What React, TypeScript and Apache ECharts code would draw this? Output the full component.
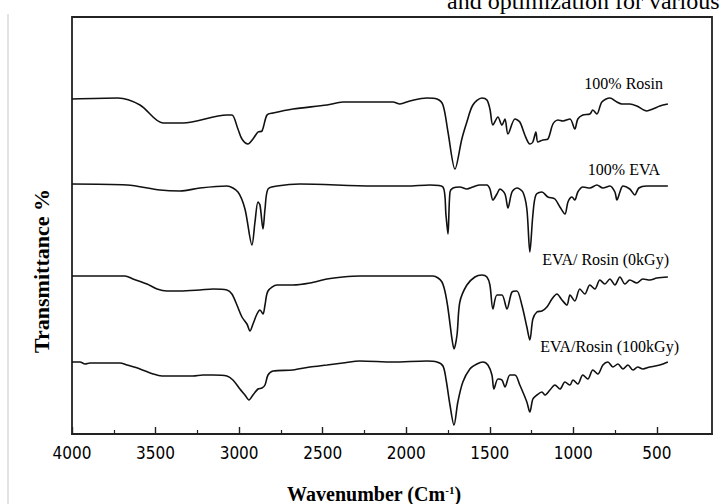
import React, { useEffect, useRef } from 'react';
import * as echarts from 'echarts';

// Wavenumbers (cm-1) and deviation from each spectrum's baseline (arbitrary transmittance units)
const rosinWn = [4000, 3725, 3593, 3456, 3336, 3073, 3043, 3007, 2983, 2947, 2917, 2887, 2863, 2833, 2797, 2678, 2474, 2379, 2079, 2038, 1978, 1876, 1816, 1780, 1750, 1708, 1667, 1637, 1601, 1547, 1517, 1499, 1481, 1451, 1427, 1409, 1391, 1349, 1320, 1290, 1260, 1242, 1224, 1212, 1182, 1152, 1122, 1092, 1062, 1020, 991, 973, 943, 901, 883, 859, 829, 781, 739, 709, 662, 620, 560, 524, 482, 434];
const rosinT = [0, 1, -6, -24, -24, -16, -16, -30, -40, -45, -40, -33, -32, -16, -14, -10, -6, -3, -3, -5, -2, 1, 0, -6, -33, -70, -40, -23, -6, 1, -1, -10, -26, -18, -26, -20, -35, -20, -23, -36, -45, -43, -33, -43, -41, -40, -25, -21, -22, -20, -30, -20, -16, -15, -11, -15, -3, 1, -3, -5, -5, -7, -12, -10, -7, -5];

const evaWn = [4000, 3671, 3473, 3354, 3234, 3073, 3007, 2965, 2923, 2905, 2887, 2875, 2857, 2845, 2827, 2773, 2636, 2199, 1996, 1858, 1780, 1762, 1750, 1738, 1720, 1679, 1637, 1601, 1559, 1517, 1499, 1481, 1457, 1439, 1409, 1391, 1367, 1338, 1302, 1278, 1260, 1242, 1224, 1188, 1152, 1110, 1080, 1050, 1032, 1008, 991, 973, 943, 901, 859, 823, 781, 751, 739, 721, 703, 662, 632, 608, 560, 434];
const evaT = [0, -1, -6, -7, -4, -2, -8, -25, -61, -38, -18, -21, -45, -25, -5, -2, 0, -2, -2, -1, -3, -31, -50, -8, -4, -3, -5, -3, -1, -1, -5, -16, -10, -5, -10, -24, -8, -4, -8, -25, -68, -31, -11, -8, -13, -15, -23, -30, -18, -13, -16, -8, -3, -4, -1, -4, -2, -8, -16, -8, -2, -5, -11, -4, -2, -2];

const blend0Wn = [4000, 3683, 3635, 3551, 3491, 3432, 3354, 3234, 3156, 3073, 3043, 3013, 2983, 2953, 2935, 2917, 2893, 2875, 2857, 2845, 2827, 2773, 2678, 2576, 2474, 2379, 2277, 2079, 1840, 1786, 1756, 1726, 1714, 1696, 1679, 1637, 1589, 1547, 1517, 1499, 1481, 1457, 1427, 1397, 1367, 1338, 1308, 1278, 1260, 1242, 1218, 1188, 1158, 1128, 1098, 1068, 1038, 1020, 991, 961, 931, 901, 871, 841, 811, 781, 751, 721, 691, 662, 620, 584, 542, 500, 434];
const blend0T = [0, 0, -3, -8, -13, -15, -15, -14, -13, -14, -18, -29, -41, -48, -55, -48, -38, -34, -38, -29, -15, -9, -9, -7, -3, -1, 0, 0, 0, -6, -26, -63, -73, -59, -26, -9, -1, 1, -1, -9, -33, -19, -19, -33, -16, -15, -29, -51, -64, -43, -36, -35, -31, -23, -18, -24, -29, -19, -25, -13, -18, -9, -13, -4, -8, -3, -9, -1, -8, -4, -7, -3, -4, -2, -1];

const blend100Wn = [4000, 3952, 3922, 3892, 3713, 3671, 3593, 3515, 3462, 3276, 3216, 3156, 3073, 3037, 2995, 2965, 2941, 2917, 2887, 2863, 2845, 2827, 2797, 2678, 2576, 2474, 2379, 2277, 2079, 1876, 1816, 1780, 1762, 1738, 1714, 1691, 1661, 1619, 1577, 1541, 1511, 1487, 1475, 1451, 1427, 1409, 1379, 1349, 1320, 1278, 1260, 1242, 1218, 1188, 1170, 1140, 1110, 1080, 1050, 1020, 1002, 973, 943, 913, 883, 853, 823, 793, 763, 733, 703, 673, 643, 614, 584, 542, 482, 434];
const blend100T = [0, 0, -2, -1, -1, -3, -7, -12, -14, -14, -13, -13, -14, -18, -27, -33, -38, -33, -27, -26, -23, -13, -9, -8, -5, -3, -1, 1, 0, 1, 0, -4, -17, -43, -63, -40, -20, -7, -2, 0, -3, -13, -27, -17, -18, -25, -13, -13, -23, -40, -50, -37, -33, -30, -33, -28, -23, -27, -20, -23, -18, -22, -13, -17, -8, -12, -3, 0, -5, -2, -7, -3, -8, -5, -7, -5, -3, 0];

const seriesNames = ['100% Rosin', '100% EVA', 'EVA/ Rosin (0kGy)', 'EVA/Rosin (100kGy)'];
const seriesWn = [rosinWn, evaWn, blend0Wn, blend100Wn];
const seriesT = [rosinT, evaT, blend0T, blend100T];
const seriesOffset = [335, 250, 158, 72];

const majorTicks = [4000, 3500, 3000, 2500, 2000, 1500, 1000, 500];
const minorTicks = [3750, 3250, 2750, 2250, 1750, 1250, 750];

const SERIF = '"Liberation Serif", "Times New Roman", serif';
const NARROW = '"Liberation Sans Narrow", "Arial Narrow", "DejaVu Sans Condensed", sans-serif';

export default function App() {
  const ref = useRef<HTMLDivElement>(null);
  useEffect(() => {
    const chart = echarts.init(ref.current!, null, { renderer: 'svg' });
    const series = seriesNames.map((name, i) => ({
      name,
      type: 'line',
      xAxisIndex: 0,
      showSymbol: false,
      symbol: 'none',
      smooth: 0.3,
      lineStyle: { color: '#111', width: 1.6 },
      data: seriesWn[i].map((w, j) => [w, seriesOffset[i] + seriesT[i][j]]),
    }));
    chart.setOption({
      animation: false,
      backgroundColor: '#fff',
      grid: {
        left: 72, right: 12, top: 17, bottom: 70,
        show: true, borderColor: '#222', borderWidth: 1.8,
      },
      xAxis: [
        {
          type: 'value', inverse: true, min: 170, max: 4000,
          axisLine: { show: true, lineStyle: { color: '#222', width: 1.8 } },
          axisTick: { show: true, inside: true, length: 7, lineStyle: { color: '#222', width: 1.4 }, customValues: majorTicks },
          axisLabel: {
            show: true, customValues: majorTicks, margin: 10, color: '#000', fontFamily: NARROW, fontSize: 17,
            formatter: (v: number) => String(v),
          },
          splitLine: { show: false },
        },
        {
          type: 'value', inverse: true, min: 170, max: 4000, position: 'bottom',
          axisLine: { show: false },
          axisTick: { show: true, inside: true, length: 4, lineStyle: { color: '#222', width: 1.2 }, customValues: minorTicks },
          axisLabel: { show: false },
          splitLine: { show: false },
        },
      ],
      yAxis: {
        type: 'value', min: 0, max: 417,
        axisLine: { show: false }, axisTick: { show: false }, axisLabel: { show: false }, splitLine: { show: false },
      },
      series,
      graphic: [
        { type: 'line', shape: { x1: 8, y1: 14, x2: 8, y2: 504 }, style: { stroke: '#c8c8c8', lineWidth: 1 } },
        { type: 'text', x: 447, y: 1, style: { text: 'and optimization for various', fontFamily: SERIF, fontSize: 24, fill: '#000', align: 'left', verticalAlign: 'middle' } },
        { type: 'text', x: 663, y: 83, style: { text: seriesNames[0], fontFamily: SERIF, fontSize: 16, fill: '#000', align: 'right', verticalAlign: 'middle' } },
        { type: 'text', x: 660, y: 169, style: { text: seriesNames[1], fontFamily: SERIF, fontSize: 16, fill: '#000', align: 'right', verticalAlign: 'middle' } },
        { type: 'text', x: 669, y: 259, style: { text: seriesNames[2], fontFamily: SERIF, fontSize: 16, fill: '#000', align: 'right', verticalAlign: 'middle' } },
        { type: 'text', x: 679, y: 346, style: { text: seriesNames[3], fontFamily: SERIF, fontSize: 16, fill: '#000', align: 'right', verticalAlign: 'middle' } },
        {
          type: 'text', x: 374, y: 494,
          style: {
            text: 'Wavenumber (Cm{sup|-1})', fontFamily: SERIF, fontSize: 20, fontWeight: 'bold', fill: '#000',
            align: 'center', verticalAlign: 'middle',
            rich: { sup: { fontFamily: SERIF, fontSize: 11, fontWeight: 'bold', verticalAlign: 'top', padding: [0, 0, 9, 0] } },
          },
        },
        {
          type: 'text', x: 41, y: 271, rotation: Math.PI / 2,
          style: { text: 'Transmittance %', fontFamily: SERIF, fontSize: 22, fontWeight: 'bold', fill: '#000', align: 'center', verticalAlign: 'middle' },
        },
      ],
    });
    return () => chart.dispose();
  }, []);
  return <div ref={ref} style={{ position: 'absolute', left: 0, top: 0, width: 724, height: 504, background: '#fff' }} />;
}
